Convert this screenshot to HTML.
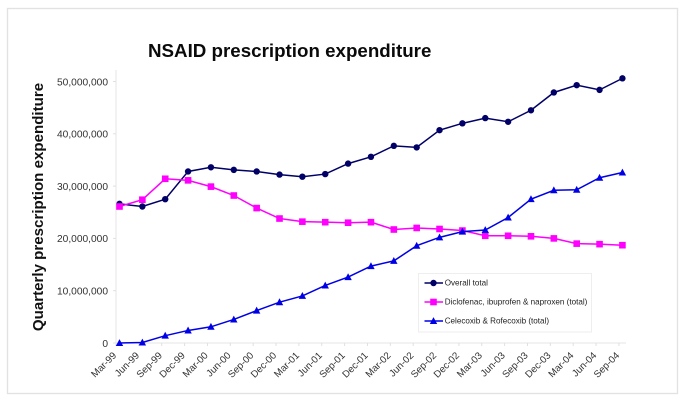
<!DOCTYPE html>
<html lang="en">
<head>
<meta charset="utf-8">
<title>NSAID prescription expenditure</title>
<style>
html,body{margin:0;padding:0;background:#fff;}
body{width:685px;height:403px;overflow:hidden;}
svg{display:block;font-family:"Liberation Sans",Arial,sans-serif;filter:blur(0.35px);}
</style>
</head>
<body>
<svg id="chart" xmlns="http://www.w3.org/2000/svg" width="685" height="403" viewBox="0 0 685 403">
  <rect x="7.5" y="8.5" width="670" height="385" fill="#fff" stroke="#e2e2e2" stroke-width="1.3"/>
  <text x="148" y="57" font-size="18.75" font-weight="bold" fill="#0a0a0a">NSAID prescription expenditure</text>
  <text transform="translate(43,207) rotate(-90)" text-anchor="middle" font-size="15.1" font-weight="bold" fill="#111">Quarterly prescription expenditure</text>
  <g id="axes"></g>
  <g id="series"></g>
  <g>
    <rect x="418.5" y="273.5" width="173" height="58.5" fill="#fff" stroke="#eeeeee" stroke-width="1"/>
    <g id="legend-entries"></g>
  </g>
</svg>
<script>
const categories = ["Mar-99","Jun-99","Sep-99","Dec-99","Mar-00","Jun-00","Sep-00","Dec-00","Mar-01","Jun-01","Sep-01","Dec-01","Mar-02","Jun-02","Sep-02","Dec-02","Mar-03","Jun-03","Sep-03","Dec-03","Mar-04","Jun-04","Sep-04"];
const overallTotal = [26600000,26100000,27500000,32800000,33600000,33100000,32800000,32200000,31800000,32300000,34300000,35600000,37700000,37400000,40700000,42000000,43000000,42300000,44500000,47900000,49300000,48400000,50600000];
const traditionalTotal = [26100000,27400000,31400000,31100000,29900000,28200000,25800000,23800000,23200000,23100000,23000000,23100000,21700000,22000000,21800000,21500000,20500000,20500000,20400000,20000000,19000000,18900000,18700000];
const coxibTotal = [0,100000,1400000,2400000,3100000,4500000,6200000,7800000,9000000,11000000,12600000,14700000,15700000,18600000,20200000,21300000,21600000,24000000,27500000,29200000,29300000,31600000,32600000];
const yTicks = [0,10000000,20000000,30000000,40000000,50000000];
const yTickLabels = ["0","10,000,000","20,000,000","30,000,000","40,000,000","50,000,000"];
const seriesNames = ["Overall total","Diclofenac, ibuprofen & naproxen (total)","Celecoxib & Rofecoxib (total)"];

const NS = "http://www.w3.org/2000/svg";
const xStart = 119.5, xStep = 22.86, axisX = 116, y0 = 343, yPerUnit = 5.23 / 1000000;
const xScale = i => xStart + i * xStep;
const yScale = v => y0 - v * yPerUnit;

function make(tag, attrs, parent) {
  const el = document.createElementNS(NS, tag);
  for (const k in attrs) el.setAttribute(k, attrs[k]);
  parent.appendChild(el);
  return el;
}

function marker(kind, x, y, color, parent) {
  if (kind === "circle") return make("circle", {cx: x, cy: y, r: 3.2, fill: color}, parent);
  if (kind === "square") return make("rect", {x: x - 3.3, y: y - 3.3, width: 6.6, height: 6.6, fill: color}, parent);
  return make("polygon", {points: (x - 3.7) + "," + (y + 3) + " " + (x + 3.7) + "," + (y + 3) + " " + x + "," + (y - 3.9), fill: color}, parent);
}

const axes = document.getElementById("axes");
const yAxisLine = make("line", {x1: axisX, y1: 70, x2: axisX, y2: y0, stroke: "#e4e4e4", "stroke-width": 1}, axes);


const xAxisLine = make("line", {x1: axisX, y1: y0, x2: 626, y2: y0, stroke: "#e4e4e4", "stroke-width": 1}, axes);



yTicks.forEach((v, i) => {
  const y = yScale(v);
  const tick = make("line", {x1: axisX - 3, y1: y, x2: axisX, y2: y, stroke: "#e0e0e0"}, axes);
  
  
  const label = make("text", {x: 108, y: y + 3.8, "text-anchor": "end", "font-size": 10.2, fill: "#333"}, axes);
  
  
  label.textContent = yTickLabels[i];
});

categories.forEach((c, i) => {
  const x = xScale(i);
  const tick = make("line", {x1: x - 3.5, y1: y0, x2: x - 3.5, y2: y0 + 3, stroke: "#e0e0e0"}, axes);
  
  
  const label = make("text", {transform: "translate(" + (x - 2.5) + "," + (y0 + 13) + ") rotate(-45)", "text-anchor": "end", "font-size": 9.8, fill: "#333"}, axes);
  
  
  label.textContent = c;
});

const seriesDefs = [
  {values: overallTotal, color: "#000066", kind: "circle"},
  {values: traditionalTotal, color: "#ff00ff", kind: "square"},
  {values: coxibTotal, color: "#0000e6", kind: "triangle"}
];

const seriesGroup = document.getElementById("series");
seriesDefs.forEach((s, idx) => {
  const g = make("g", {}, seriesGroup);
  
  
  const pts = s.values.map((v, i) => xScale(i) + "," + yScale(v)).join(" ");
  const line = make("polyline", {points: pts, fill: "none", stroke: s.color, "stroke-width": 1.5}, g);
  
  
  s.values.forEach((v, i) => {
    const m = marker(s.kind, xScale(i), yScale(v), s.color, g);
    
    
  });
});

const legendEntries = document.getElementById("legend-entries");
const legendY = [283, 302, 321];
seriesDefs.forEach((s, i) => {
  const g = make("g", {}, legendEntries);
  
  
  make("line", {x1: 424.5, y1: legendY[i], x2: 443, y2: legendY[i], stroke: s.color, "stroke-width": 1.5}, g);
  marker(s.kind, 433.5, legendY[i], s.color, g);
  const t = make("text", {x: 444.7, y: legendY[i] + 2.4, "font-size": 8.1, fill: "#222"}, g);
  t.textContent = seriesNames[i];
});
</script>
</body>
</html>
